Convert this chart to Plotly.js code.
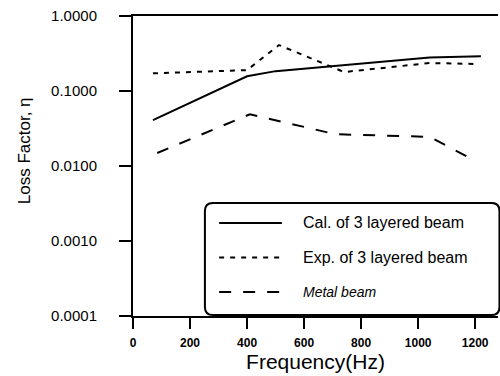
<!DOCTYPE html>
<html><head><meta charset="utf-8">
<script src="https://cdn.plot.ly/plotly-3.0.1.min.js"></script>
<style>body{margin:0;background:#fff}#c{width:500px;height:376px}</style>
</head><body><div id="c"></div>
<script>
var calFreq = [70, 400, 500, 710, 1040, 1220];
var calLoss = [0.041, 0.157, 0.184, 0.215, 0.28, 0.29];
var expFreq = [70, 400, 512, 740, 1040, 1210];
var expLoss = [0.172, 0.19, 0.41, 0.179, 0.236, 0.229];
var metalFreq = [85, 410, 710, 1040, 1195];
var metalLoss = [0.0149, 0.049, 0.0265, 0.0245, 0.012];
var yTickVals = [0.0001, 0.001, 0.01, 0.1, 1];
var yTickText = ['0.0001', '0.0010', '0.0100', '0.1000', '1.0000'];
var xTickVals = [0, 200, 400, 600, 800, 1000, 1200];
var legendNames = ['Cal. of 3 layered beam', 'Exp. of 3 layered beam', 'Metal beam'];

var dashes = ['solid', '5px,6px', '12px,12px'];
var traces = [
  {x: calFreq, y: calLoss, name: legendNames[0], mode: 'lines', line: {color: '#000', width: 2, dash: dashes[0]}},
  {x: expFreq, y: expLoss, name: legendNames[1], mode: 'lines', line: {color: '#000', width: 2, dash: dashes[1]}},
  {x: metalFreq, y: metalLoss, name: legendNames[2], mode: 'lines', line: {color: '#000', width: 2, dash: dashes[2]}}
];

// custom legend (rounded box + samples + text), in paper coordinates
var bx0 = 0.197, bx1 = 1.004, by0 = 0.003, by1 = 0.377, rx = 0.022, ry = 0.027;
var boxPath = 'M ' + (bx0 + rx) + ' ' + by1 +
  ' L ' + (bx1 - rx) + ' ' + by1 + ' Q ' + bx1 + ' ' + by1 + ' ' + bx1 + ' ' + (by1 - ry) +
  ' L ' + bx1 + ' ' + (by0 + ry) + ' Q ' + bx1 + ' ' + by0 + ' ' + (bx1 - rx) + ' ' + by0 +
  ' L ' + (bx0 + rx) + ' ' + by0 + ' Q ' + bx0 + ' ' + by0 + ' ' + bx0 + ' ' + (by0 + ry) +
  ' L ' + bx0 + ' ' + (by1 - ry) + ' Q ' + bx0 + ' ' + by1 + ' ' + (bx0 + rx) + ' ' + by1 + ' Z';
var shapes = [{type: 'path', xref: 'paper', yref: 'paper', path: boxPath, line: {color: '#000', width: 2}, fillcolor: 'rgba(255,255,255,0)'}];
var rowY = [0.31, 0.195, 0.08];
var annotations = [];
for (var i = 0; i < 3; i++) {
  shapes.push({type: 'line', xref: 'paper', yref: 'paper', x0: 0.236, x1: 0.408, y0: rowY[i], y1: rowY[i],
    line: {color: '#000', width: 2, dash: dashes[i]}});
  annotations.push({xref: 'paper', yref: 'paper', x: 0.46, y: rowY[i], xanchor: 'left', yanchor: 'middle',
    text: i === 2 ? '<i>' + legendNames[i] + '</i>' : legendNames[i], showarrow: false,
    font: {family: 'Liberation Sans, Arial, sans-serif', size: i === 2 ? 14 : 16, color: '#000'}});
}
// y-axis title placed to match reference position
annotations.push({xref: 'paper', yref: 'paper', x: -0.298, y: 0.55, xanchor: 'center', yanchor: 'middle',
  textangle: -90, text: 'Loss Factor, η', showarrow: false,
  font: {family: 'Liberation Sans, Arial, sans-serif', size: 17, color: '#000'}});

var layout = {
  width: 500, height: 376,
  margin: {l: 133, r: 2, t: 16, b: 60},
  paper_bgcolor: '#fff', plot_bgcolor: '#fff',
  showlegend: false,
  font: {family: 'Liberation Sans, Arial, sans-serif', color: '#000'},
  xaxis: {
    range: [0, 1280], tickvals: xTickVals, ticks: 'outside', ticklen: 11, tickwidth: 2, tickcolor: '#000',
    showline: true, linewidth: 2, linecolor: '#000', mirror: true, showgrid: false, zeroline: false,
    ticklabelstandoff: 4,
    tickfont: {family: 'Liberation Sans Narrow, Arial Narrow, sans-serif', size: 12, weight: 'bold'},
    title: {text: 'Frequency(Hz)', font: {size: 21}, standoff: 0}
  },
  yaxis: {
    type: 'log', range: [-4, 0], tickvals: yTickVals, ticktext: yTickText,
    ticks: 'outside', ticklen: 12, tickwidth: 2, tickcolor: '#000',
    showline: true, linewidth: 2, linecolor: '#000', mirror: false, showgrid: false, zeroline: false,
    ticklabelstandoff: 19,
    tickfont: {size: 15}
  },
  shapes: shapes,
  annotations: annotations
};
Plotly.newPlot('c', traces, layout, {staticPlot: true, displayModeBar: false});
</script></body></html>
